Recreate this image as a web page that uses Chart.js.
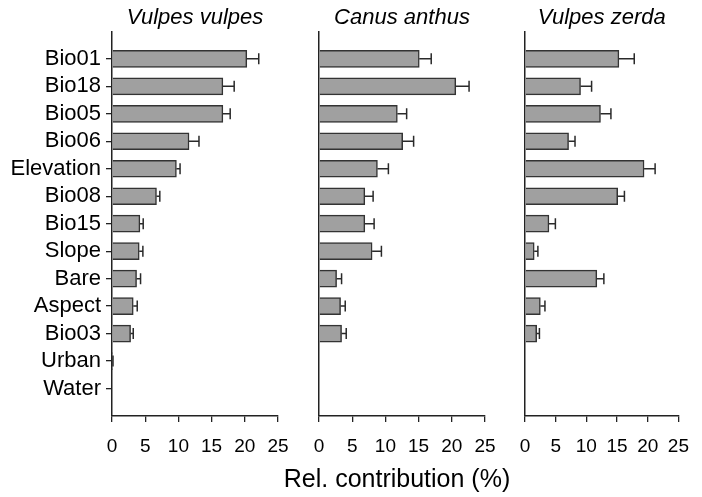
<!DOCTYPE html>
<html>
<head>
<meta charset="utf-8">
<script src="https://cdn.jsdelivr.net/npm/chart.js@4/dist/chart.umd.min.js"></script>
<style>
  html, body { margin: 0; padding: 0; background: #ffffff; }
  #wrap { position: relative; width: 702px; height: 497px; background: #ffffff; }
  #wrap canvas { position: absolute; left: 0; top: 0; }
</style>
</head>
<body>
<div id="wrap">
  <canvas id="c1" width="702" height="497"></canvas>
  <canvas id="c2" width="702" height="497"></canvas>
  <canvas id="c3" width="702" height="497"></canvas>
</div>
<script>
// ---- data ----
const categories = ['Bio01','Bio18','Bio05','Bio06','Elevation','Bio08','Bio15','Slope','Bare','Aspect','Bio03','Urban','Water'];
const panelTitles = ['Vulpes vulpes','Canus anthus','Vulpes zerda'];
const vulpesVulpes    = [20.3, 16.7, 16.7, 11.6, 9.7, 6.7, 4.2, 4.1, 3.7, 3.2, 2.8, 0.05, 0];
const vulpesVulpesErr = [1.8, 1.7, 1.1, 1.5, 0.55, 0.5, 0.5, 0.55, 0.6, 0.6, 0.4, 0.1, 0];
const canusAnthus     = [15.1, 20.6, 11.8, 12.6, 8.8, 6.9, 6.9, 8.0, 2.65, 3.25, 3.4, 0, 0];
const canusAnthusErr  = [1.8, 2.0, 1.4, 1.65, 1.65, 1.25, 1.4, 1.4, 0.75, 0.7, 0.7, 0, 0];
const vulpesZerda     = [15.3, 9.05, 12.3, 7.1, 19.4, 15.1, 3.9, 1.5, 11.7, 2.5, 1.9, 0, 0];
const vulpesZerdaErr  = [2.5, 1.8, 1.7, 1.05, 1.8, 1.1, 1.05, 0.6, 1.15, 0.75, 0.45, 0, 0];
const xTickValues = [0, 5, 10, 15, 20, 25];
const xAxisTitle = 'Rel. contribution (%)';

Chart.defaults.font.family = '"Liberation Sans", Arial, Helvetica, sans-serif';
Chart.defaults.color = '#000';

// padded category list (empty slot above and below, as in the reference)
const paddedLabels = [''].concat(categories, ['']);
function pad(arr) { return [null].concat(arr, [null]); }

const errorBarPlugin = {
  id: 'errorBars',
  afterDatasetsDraw(chart) {
    const ctx = chart.ctx;
    const xs = chart.scales.x, ys = chart.scales.y;
    chart.data.datasets.forEach(ds => {
      const errs = ds.errorBars || [];
      ds.data.forEach((v, i) => {
        const e = errs[i];
        if (v == null || !e) return;
        const x1 = xs.getPixelForValue(v);
        const x2 = xs.getPixelForValue(v + e);
        const y = ys.getPixelForValue(i);
        ctx.save();
        ctx.strokeStyle = '#2a2a2a';
        ctx.lineWidth = 1.5;
        ctx.beginPath();
        ctx.moveTo(x1, y); ctx.lineTo(x2, y);
        ctx.moveTo(x2, y - 5.5); ctx.lineTo(x2, y + 5.5);
        ctx.stroke();
        ctx.restore();
      });
    });
  }
};

// bottom caption box (axis title spanning below the panels)
const SUB_FONT = 25, SUB_PAD_TOP = 0, SUB_PAD_BOTTOM = 2;
const SUB_H = SUB_FONT * 1.2 + SUB_PAD_TOP + SUB_PAD_BOTTOM;
const BOTTOM_BAND = 81; // from plot bottom to canvas bottom
const CAPTION_CENTER = 397;

function makePanel(canvasId, title, values, errs, left, right, showY, showXTitle) {
  const xHeight = showXTitle ? BOTTOM_BAND - SUB_H : BOTTOM_BAND;
  // for the captioned panel, an invisible right-hand spacer axis lets the caption box span wide
  const padLeft = showXTitle ? 2 * CAPTION_CENTER - 702 : 0;
  const padRight = showXTitle ? 0 : 702 - right;
  const scales = {
    x: {
      type: 'linear',
      min: 0, max: 25,
      afterBuildTicks: s => { s.ticks = xTickValues.map(v => ({ value: v })); },
      afterFit: s => { s.height = xHeight; },
      grid: { display: true, drawOnChartArea: false, drawTicks: true, tickLength: 6, color: '#222', lineWidth: 1.3 },
      border: { display: true, color: '#222', width: 1.5 },
      ticks: { font: { size: 19 }, color: '#000', padding: 13, maxRotation: 0 }
    },
    y: {
      type: 'category',
      offset: false,
      afterFit: s => { s.width = left - padLeft; },
      grid: {
        display: true, offset: false, drawOnChartArea: false, drawTicks: showY, tickLength: 6, lineWidth: 1.3,
        tickColor: c => (c.index === 0 || c.index === paddedLabels.length - 1) ? 'rgba(0,0,0,0)' : '#222'
      },
      border: { display: true, color: '#222', width: 1.5 },
      ticks: { display: showY, autoSkip: false, font: { size: 22 }, color: '#000', padding: 5 }
    }
  };
  if (showXTitle) {
    scales.ySpacer = {
      type: 'linear',
      position: 'right',
      display: true,
      afterFit: s => { s.width = 702 - right; },
      grid: { display: false, drawTicks: false },
      border: { display: false },
      ticks: { display: false }
    };
  }
  return new Chart(document.getElementById(canvasId), {
    type: 'bar',
    data: {
      labels: paddedLabels,
      datasets: [{
        data: pad(values),
        errorBars: pad(errs),
        backgroundColor: '#a0a0a0',
        borderColor: '#333333',
        borderWidth: 1.5,
        barThickness: 17
      }]
    },
    options: {
      indexAxis: 'y',
      responsive: false,
      animation: false,
      events: [],
      layout: { padding: { left: padLeft, right: padRight, top: 0, bottom: 0 } },
      plugins: {
        legend: { display: false },
        tooltip: { enabled: false },
        title: {
          display: true,
          text: title,
          fullSize: false,
          font: { size: 22, style: 'italic', weight: 'normal' },
          color: '#000',
          padding: { top: 5, bottom: 0 }
        },
        subtitle: {
          display: showXTitle,
          text: xAxisTitle,
          position: 'bottom',
          fullSize: true,
          font: { size: SUB_FONT, weight: 'normal' },
          color: '#000',
          padding: { top: SUB_PAD_TOP, bottom: SUB_PAD_BOTTOM }
        }
      },
      scales: scales
    },
    plugins: [errorBarPlugin]
  });
}

makePanel('c1', panelTitles[0], vulpesVulpes, vulpesVulpesErr, 112, 278, true, false);
makePanel('c2', panelTitles[1], canusAnthus, canusAnthusErr, 319, 485, false, true);
makePanel('c3', panelTitles[2], vulpesZerda, vulpesZerdaErr, 525, 689, false, false);
</script>
</body>
</html>
